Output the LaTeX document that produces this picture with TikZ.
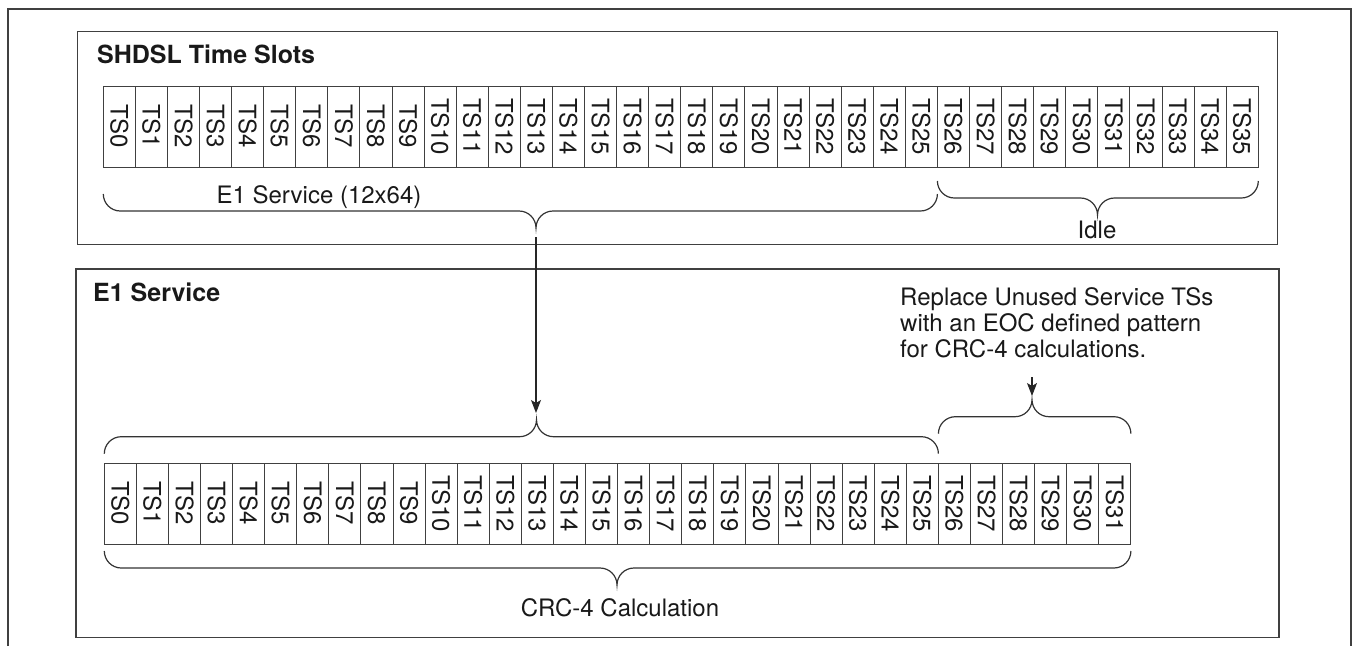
\documentclass[tikz,border=0pt]{standalone}
\usepackage{fontspec}
\setmainfont{TeX Gyre Heros}
\usetikzlibrary{arrows.meta}
\newcommand\mybrace[5]{% x1, tip x, x2, line y, direction (1 = tip down, -1 = tip up)
  \draw[brace] ({#1},{#4-(#5)*17}) .. controls ({#1},{#4-(#5)*7.6}) and ({#1+7.6},{#4}) .. ({#1+17},{#4})
    -- ({#2-17},{#4}) .. controls ({#2-7.6},{#4}) and ({#2},{#4+(#5)*7.6}) .. ({#2},{#4+(#5)*17})
    .. controls ({#2},{#4+(#5)*7.6}) and ({#2+7.6},{#4}) .. ({#2+17},{#4})
    -- ({#3-17},{#4}) .. controls ({#3-7.6},{#4}) and ({#3},{#4-(#5)*7.6}) .. ({#3},{#4-(#5)*17});}
\tikzset{
  frame/.style={draw=black!75, line width=1.3pt},
  box/.style={draw=black!75, line width=1.3pt, inner sep=0pt},
  cell/.style={draw=black!75, line width=0.9pt, rotate=-90, minimum width=81pt, minimum height=32.08pt,
    inner sep=0pt, font=\fontsize{24}{24}\selectfont, text=black!90},
  brace/.style={draw=black!80, line width=1.2pt},
  lbl/.style={font=\fontsize{24}{26}\selectfont, text=black!90, inner sep=0pt},
  ttl/.style={font=\bfseries\fontsize{25}{28}\selectfont, text=black!90, inner sep=0pt, anchor=base west},
  arr/.style={draw=black!85, line width=1.2pt, -{Stealth[length=13pt,width=10pt,inset=3pt]}},
}
\begin{document}
\begin{tikzpicture}[x=1pt,y=-1pt]
\useasboundingbox (0,0) rectangle (1352,646);
% outer frame (open at bottom)
\draw[frame] (8,646) -- (8,9) -- (1351,9) -- (1351,646);
% boxes
\node[box, minimum width=1200pt, minimum height=213pt] (shdsl) at (677.5,138) {};
\node[box, minimum width=1203pt, minimum height=368.7pt] (e1box) at (677.5,453.35) {};
% titles
\node[ttl] (t1) at (97,63) {SHDSL Time Slots};
\node[ttl] (t2) at (93,301) {E1 Service};
% upper slots
\foreach \i in {0,...,35} {\node[cell] (u\i) at ({103.3+32.08*(\i+0.5)},126.5) {TS\i};}
% lower slots
\foreach \i in {0,...,31} {\node[cell] (l\i) at ({104.3+32.08*(\i+0.5)},503.5) {TS\i};}
% braces
\mybrace{103.3}{536}{937.4}{211}{1}
\mybrace{937.4}{1097.5}{1258.3}{198}{1}
\mybrace{104.3}{536.5}{938.4}{436.7}{-1}
\mybrace{938.4}{1032}{1130.9}{416.7}{-1}
\mybrace{104.3}{617}{1130.9}{568}{1}
% labels
\node[lbl, anchor=base] (e1l) at (319,203) {E1 Service (12x64)};
\node[lbl, anchor=base] (idle) at (1097,238) {Idle};
\node[lbl, anchor=base] (crc) at (620,616) {CRC-4 Calculation};
\node[lbl, anchor=north west, align=left] (note) at (900,287)
  {Replace Unused Service TSs\\with an EOC defined pattern\\for CRC-4 calculations.};
% arrows
\coordinate (a1s) at (536,237);
\coordinate (a1e) at (536,413);
\draw[arr] (a1s) -- (a1e);
\coordinate (a2s) at (1032,377);
\coordinate (a2e) at (1032,396);
\draw[arr] (a2s) -- (a2e);
\end{tikzpicture}
\end{document}
